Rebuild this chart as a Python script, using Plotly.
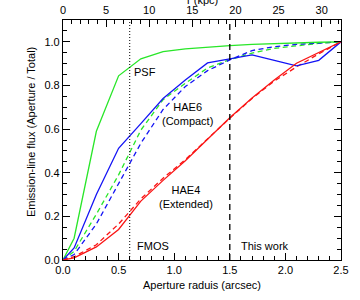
import plotly.graph_objects as go

# Aperture radii (arcsec)
radius = [0.0, 0.1, 0.3, 0.5, 0.7, 0.9, 1.1, 1.3, 1.5, 1.7, 1.9, 2.1, 2.3, 2.5]

# Curves of growth (Aperture / Total)
psf = [0.0, 0.10, 0.59, 0.844, 0.922, 0.955, 0.968, 0.977, 0.983, 0.988, 0.992, 0.995, 0.998, 1.0]
hae6_obs = [0.0, 0.055, 0.30, 0.512, 0.625, 0.74, 0.825, 0.903, 0.922, 0.94, 0.915, 0.89, 0.915, 1.0]
hae6_model_psf = [0.0, 0.04, 0.21, 0.39, 0.595, 0.735, 0.81, 0.88, 0.918, 0.948, 0.97, 0.983, 0.993, 1.0]
hae6_model = [0.0, 0.025, 0.165, 0.348, 0.535, 0.69, 0.795, 0.868, 0.917, 0.96, 0.978, 0.988, 0.995, 1.0]
hae4_obs = [0.0, 0.01, 0.06, 0.14, 0.27, 0.365, 0.455, 0.555, 0.652, 0.742, 0.825, 0.902, 0.95, 1.0]
hae4_model = [0.0, 0.015, 0.07, 0.165, 0.28, 0.375, 0.46, 0.555, 0.65, 0.74, 0.82, 0.885, 0.945, 1.0]

# Aperture markers
fmos_radius = 0.6
this_work_radius = 1.5

# Axis settings / tick labels
x_range = [0, 2.5]
y_range = [0, 1.1]
kpc_range = [0, 32.24]
x_ticks = [0.0, 0.5, 1.0, 1.5, 2.0, 2.5]
y_ticks = [0.0, 0.2, 0.4, 0.6, 0.8, 1.0]
kpc_ticks = [0, 5, 10, 15, 20, 25, 30]

GREEN = "rgb(40,230,40)"
BLUE = "rgb(20,20,245)"
RED = "rgb(250,20,20)"
FONT = "Liberation Sans, Arial, sans-serif"
DASH = "5px,3.5px"

fig = go.Figure()

def add(y, color, dash):
    fig.add_trace(go.Scatter(x=radius, y=y, mode="lines",
                             line=dict(color=color, width=1.3, dash=dash),
                             hoverinfo="skip", showlegend=False))

add(hae6_model_psf, GREEN, DASH)
add(hae6_model, BLUE, DASH)
add(hae4_model, RED, DASH)
add(psf, GREEN, "solid")
add(hae6_obs, BLUE, "solid")
add(hae4_obs, RED, "solid")

# vertical aperture lines
fig.add_trace(go.Scatter(x=[fmos_radius, fmos_radius], y=y_range, mode="lines",
                         line=dict(color="black", width=1, dash="1px,2px"),
                         hoverinfo="skip", showlegend=False))
fig.add_trace(go.Scatter(x=[this_work_radius, this_work_radius], y=y_range, mode="lines",
                         line=dict(color="black", width=1.3, dash="6px,4px"),
                         hoverinfo="skip", showlegend=False))

# invisible trace on top axis
fig.add_trace(go.Scatter(x=kpc_range, y=[None, None], xaxis="x2", mode="lines",
                         hoverinfo="skip", showlegend=False))

tick_common = dict(ticks="inside", ticklen=7, tickwidth=1, tickcolor="black",
                   showline=True, linecolor="black", linewidth=1.2,
                   showgrid=False, zeroline=False, automargin=False,
                   tickfont=dict(family=FONT, size=11, color="black"))

fig.update_layout(
    width=360, height=300,
    margin=dict(l=63, r=19, t=20, b=40, autoexpand=False),
    paper_bgcolor="white", plot_bgcolor="white",
    xaxis=dict(range=x_range, tickvals=x_ticks, tickformat=".1f",
               minor=dict(dtick=0.1, ticklen=4, ticks="inside", tickcolor="black"),
               **tick_common),
    xaxis2=dict(range=kpc_range, overlaying="x", side="top", tickvals=kpc_ticks,
                ticklabelstandoff=1,
                minor=dict(dtick=1, ticklen=4, ticks="inside", tickcolor="black"),
                **tick_common),
    yaxis=dict(range=y_range, tickvals=y_ticks, tickformat=".1f", mirror="ticks",
               minor=dict(dtick=0.05, ticklen=4, ticks="inside", tickcolor="black"),
               **tick_common),
)

def label(text, x, y, xref="x", yref="y", angle=0):
    fig.add_annotation(text=text, x=x, y=y, xref=xref, yref=yref, showarrow=False,
                       textangle=angle, xanchor="center", yanchor="middle",
                       font=dict(family=FONT, size=11, color="black"))

label("PSF", 0.74, 0.862)
label("HAE6<br>(Compact)", 1.12, 0.67)
label("HAE4<br>(Extended)", 1.11, 0.287)
label("FMOS", 0.81, 0.064)
label("This work", 1.82, 0.064)
label("Aperture raduis (arcsec)", 0.5, -0.104, xref="paper", yref="paper")
label("Emission-line flux (Aperture / Total)", -0.115, 0.533, xref="paper", yref="paper", angle=-90)
label("r (kpc)", 0.5, 1.0 + 19.5/240, xref="paper", yref="paper")

fig.write_html("out.html", config={"displayModeBar": False},
               post_script="document.body.style.margin='0px';")
